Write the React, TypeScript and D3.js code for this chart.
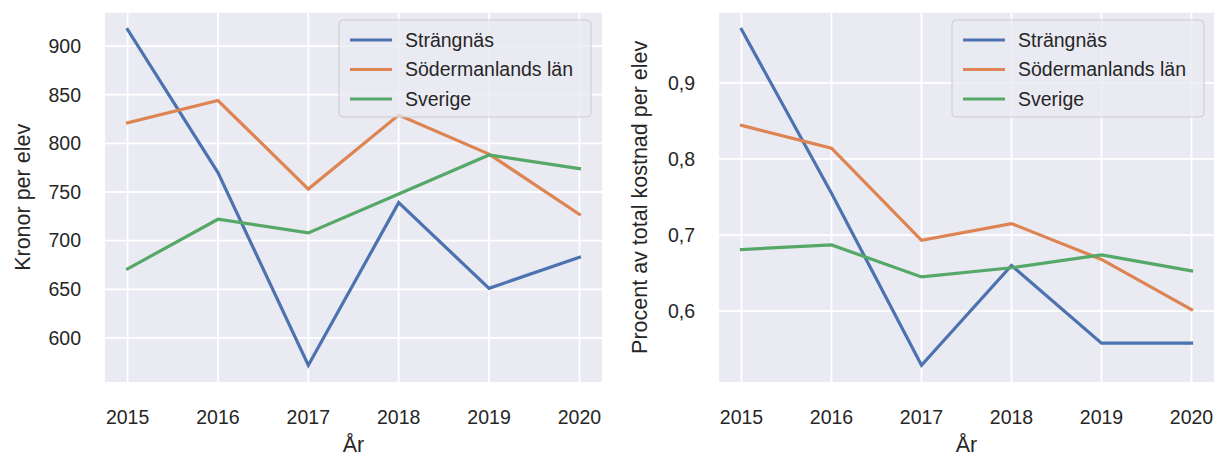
import React, { useEffect, useRef } from "react";
import * as d3 from "d3";

const years = [2015, 2016, 2017, 2018, 2019, 2020];
const seriesNames = ["Strängnäs", "Södermanlands län", "Sverige"];
const seriesColors = ["#4c72b0", "#dd8452", "#55a868"];

// Kronor per elev
const kronorStrangnas = [917, 770, 572, 739, 651, 683];
const kronorSodermanland = [821, 844, 753, 829, 789, 727];
const kronorSverige = [671, 722, 708, 748, 788, 774];
const kronorTicks = [600, 650, 700, 750, 800, 850, 900];

// Procent av total kostnad per elev
const andelStrangnas = [0.97, 0.755, 0.529, 0.66, 0.558, 0.558];
const andelSodermanland = [0.844, 0.814, 0.693, 0.715, 0.668, 0.602];
const andelSverige = [0.681, 0.687, 0.645, 0.657, 0.674, 0.653];
const andelTicks = [0.6, 0.7, 0.8, 0.9];

const FONT = "'Liberation Sans', Arial, sans-serif";
const TEXT = "#262626";

interface PanelSpec {
  left: number;
  right: number;
  series: number[][];
  ticks: number[];
  tickFmt: (v: number) => string;
  ylabel: string;
  ylabelX: number;
  legendX: number;
}

const App: React.FC = () => {
  const svgRef = useRef<SVGSVGElement>(null);

  useEffect(() => {
    document.body.style.margin = "0";
    if (!svgRef.current) return;
    const svg = d3.select(svgRef.current);
    svg.selectAll("*").remove();

    const top = 12.7;
    const bottom = 382;

    const panels: PanelSpec[] = [
      {
        left: 105,
        right: 602,
        series: [kronorStrangnas, kronorSodermanland, kronorSverige],
        ticks: kronorTicks,
        tickFmt: (v) => String(v),
        ylabel: "Kronor per elev",
        ylabelX: 30,
        legendX: 339,
      },
      {
        left: 719,
        right: 1214,
        series: [andelStrangnas, andelSodermanland, andelSverige],
        ticks: andelTicks,
        tickFmt: (v) => d3.format(".1f")(v).replace(".", ","),
        ylabel: "Procent av total kostnad per elev",
        ylabelX: 647,
        legendX: 952,
      },
    ];

    panels.forEach((p) => {
      const g = svg.append("g");
      const all = p.series.flat();
      const lo = d3.min(all) as number;
      const hi = d3.max(all) as number;
      const pad = (hi - lo) * 0.05;
      const xPad = (years[years.length - 1] - years[0]) * 0.05;

      const x = d3
        .scaleLinear()
        .domain([years[0] - xPad, years[years.length - 1] + xPad])
        .range([p.left, p.right]);
      const y = d3
        .scaleLinear()
        .domain([lo - pad, hi + pad])
        .range([bottom, top]);

      // background
      g.append("rect")
        .attr("x", p.left)
        .attr("y", top)
        .attr("width", p.right - p.left)
        .attr("height", bottom - top)
        .attr("fill", "#eaeaf2");

      // grid
      years.forEach((yr) => {
        g.append("line")
          .attr("x1", x(yr))
          .attr("x2", x(yr))
          .attr("y1", top)
          .attr("y2", bottom)
          .attr("stroke", "white")
          .attr("stroke-width", 1.8);
        g.append("text")
          .attr("x", x(yr))
          .attr("y", 424)
          .attr("text-anchor", "middle")
          .style("font-family", FONT)
          .style("font-size", "19.5px")
          .attr("fill", TEXT)
          .text(yr);
      });
      p.ticks.forEach((t) => {
        g.append("line")
          .attr("x1", p.left)
          .attr("x2", p.right)
          .attr("y1", y(t))
          .attr("y2", y(t))
          .attr("stroke", "white")
          .attr("stroke-width", 1.8);
        g.append("text")
          .attr("x", p.left - 24)
          .attr("y", y(t))
          .attr("dy", "0.35em")
          .attr("text-anchor", "end")
          .style("font-family", FONT)
          .style("font-size", "19.5px")
          .attr("fill", TEXT)
          .text(p.tickFmt(t));
      });

      // lines
      const line = d3
        .line<number>()
        .x((_, i) => x(years[i]))
        .y((d) => y(d));
      p.series.forEach((s, i) => {
        g.append("path")
          .datum(s)
          .attr("d", line)
          .attr("fill", "none")
          .attr("stroke", seriesColors[i])
          .attr("stroke-width", 3.2)
          .attr("stroke-linecap", "square");
      });

      // axis labels
      g.append("text")
        .attr("x", (p.left + p.right) / 2)
        .attr("y", 452)
        .attr("text-anchor", "middle")
        .style("font-family", FONT)
        .style("font-size", "21.5px")
        .attr("fill", TEXT)
        .text("År");
      g.append("text")
        .attr(
          "transform",
          `translate(${p.ylabelX},${(top + bottom) / 2}) rotate(-90)`
        )
        .attr("text-anchor", "middle")
        .style("font-family", FONT)
        .style("font-size", "21.5px")
        .attr("fill", TEXT)
        .text(p.ylabel);

      // legend
      const lg = g.append("g").attr("transform", `translate(${p.legendX},20)`);
      lg.append("rect")
        .attr("width", 252)
        .attr("height", 97)
        .attr("rx", 4)
        .attr("fill", "#eaeaf2")
        .attr("fill-opacity", 0.8)
        .attr("stroke", "#cccccc")
        .attr("stroke-width", 1);
      seriesNames.forEach((name, i) => {
        const ry = 20 + i * 29.5;
        lg.append("line")
          .attr("x1", 11)
          .attr("x2", 53)
          .attr("y1", ry)
          .attr("y2", ry)
          .attr("stroke", seriesColors[i])
          .attr("stroke-width", 3.2);
        lg.append("text")
          .attr("x", 66)
          .attr("y", ry)
          .attr("dy", "0.35em")
          .style("font-family", FONT)
          .style("font-size", "19.5px")
          .attr("fill", TEXT)
          .text(name);
      });
    });
  }, []);

  return <svg ref={svgRef} width={1217} height={459} style={{ display: "block" }} />;
};

export default App;
